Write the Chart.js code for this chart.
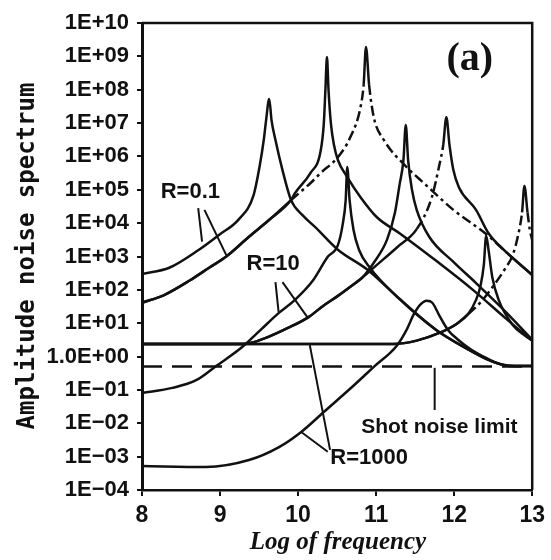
<!DOCTYPE html>
<html>
<head>
<meta charset="utf-8">
<script src="https://cdn.jsdelivr.net/npm/chart.js@4.4.0/dist/chart.umd.min.js"></script>
<style>
  html, body { margin: 0; padding: 0; background: #fff; }
  #wrap { width: 551px; height: 560px; }
</style>
</head>
<body>
<div id="wrap"><canvas id="noiseChart" width="551" height="560"></canvas></div>
<script>
// values: log of frequency, amplitude
// R = 0.1
const r01aFreq = [8.00, 8.35, 8.73, 8.99, 9.24, 9.43, 9.51, 9.56, 9.59, 9.63, 9.66, 9.71, 9.80, 9.91, 10.06, 10.22, 10.51, 10.89, 11.27, 11.77, 12.15, 12.47, 12.72, 13.00];
const r01aAmp  = [3.0e2, 4.6e2, 1.6e3, 4.5e3, 1.3e4, 6.9e4, 5.5e5, 3.1e6, 1.2e7, 5.3e7, 1.2e7, 3.1e6, 3.9e5, 4.9e4, 1.7e4, 7.6e3, 1.6e3, 4.0e2, 62, 6.3, 1.8, 0.74, 0.52, 0.52];

const r01bFreq = [8.00, 8.29, 8.61, 8.86, 9.08, 9.37, 9.62, 9.91, 9.96, 10.16, 10.29, 10.33, 10.35, 10.37, 10.39, 10.42, 10.46, 10.51, 10.63, 10.80, 11.01, 11.30, 11.77, 12.24, 12.66, 13.00];
const r01bAmp  = [41, 71, 1.9e2, 4.6e2, 1.0e3, 3.9e3, 1.2e4, 4.9e4, 7.9e4, 3.2e5, 1.5e6, 1.0e7, 9.8e7, 9.5e8, 9.8e7, 1.0e7, 2.2e6, 7.8e5, 2.4e5, 6.0e4, 1.5e4, 5.0e3, 7.4e2, 1.0e2, 14, 3.0];

const r01cFreq = [8.00, 8.29, 8.61, 8.86, 9.08, 9.37, 9.62, 9.91, 10.16, 10.29, 10.51, 10.67, 10.80, 10.84, 10.87, 10.91, 10.97, 11.10, 11.39, 11.61, 11.99, 12.41, 12.66, 13.00];
const r01cAmp  = [41, 71, 1.9e2, 4.6e2, 1.0e3, 3.9e3, 1.2e4, 4.9e4, 1.6e5, 3.2e5, 9.5e5, 3.8e6, 3.0e7, 1.4e8, 1.9e9, 1.4e8, 1.5e7, 3.1e6, 4.8e5, 1.6e5, 2.5e4, 4.7e3, 1.4e3, 2.8e2];

// R = 10
const r10aFreq = [8.00, 8.39, 8.70, 8.95, 9.28, 9.52, 9.75, 9.96, 10.19, 10.38, 10.51, 10.57, 10.61, 10.63, 10.66, 10.71, 10.78, 10.92, 11.27, 11.77, 12.15, 12.47, 12.72, 13.00];
const r10aAmp  = [0.081, 0.115, 0.20, 0.52, 1.9, 6.3, 20, 50, 1.9e2, 9.8e2, 2.2e3, 8.7e3, 4.9e4, 4.8e5, 4.9e4, 6.3e3, 1.6e3, 4.6e2, 62, 6.3, 1.8, 0.74, 0.52, 0.52];

const r10bFreq = [8.00, 9.30, 9.43, 9.62, 9.87, 10.13, 10.32, 10.51, 10.70, 10.82, 10.97, 11.14, 11.24, 11.30, 11.35, 11.38, 11.41, 11.46, 11.52, 11.68, 11.99, 12.28, 12.66, 13.00];
const r10bAmp  = [2.4, 2.4, 2.7, 3.9, 7.2, 15, 33, 66, 1.4e2, 2.3e2, 6.5e2, 3.2e3, 2.0e4, 1.4e5, 7.8e5, 8.7e6, 7.8e5, 9.8e4, 2.5e4, 3.9e3, 6.9e2, 1.6e2, 22, 3.2];

const r10cFreq = [8.00, 9.30, 9.43, 9.62, 9.87, 10.13, 10.32, 10.51, 10.70, 10.82, 11.01, 11.27, 11.52, 11.71, 11.81, 11.86, 11.90, 11.94, 11.99, 12.06, 12.28, 12.44, 12.66, 13.00];
const r10cAmp  = [2.4, 2.4, 2.7, 3.9, 7.2, 15, 33, 66, 1.4e2, 2.3e2, 5.6e2, 1.9e3, 6.6e3, 5.6e4, 5.5e5, 2.2e6, 1.5e7, 2.2e6, 3.9e5, 1.2e5, 2.5e4, 5.0e3, 1.4e3, 2.8e2];

// R = 1000
const r1000aFreq = [8.00, 8.82, 9.37, 9.75, 10.04, 10.34, 10.67, 10.97, 11.27, 11.39, 11.48, 11.56, 11.65, 11.72, 11.81, 11.92, 12.05, 12.22, 12.41, 12.59, 12.78, 13.00];
const r1000aAmp  = [5.2e-4, 4.9e-4, 7.9e-4, 1.9e-3, 5.5e-3, 2.3e-2, 0.11, 0.49, 2.2, 6.3, 18, 35, 47, 41, 17, 6.3, 3.2, 1.6, 0.91, 0.60, 0.52, 0.52];

const r1000bFreq = [8.00, 11.23, 11.52, 11.81, 12.03, 12.18, 12.28, 12.34, 12.38, 12.41, 12.44, 12.49, 12.57, 12.75, 12.91, 13.00];
const r1000bAmp  = [2.4, 2.4, 3.0, 5.1, 9.5, 19, 50, 1.4e2, 5.6e2, 4.2e3, 1.6e3, 2.3e2, 50, 8.9, 4.2, 3.0];

const r1000cFreq = [8.00, 11.23, 11.52, 11.81, 12.03, 12.18, 12.32, 12.49, 12.66, 12.75, 12.82, 12.87, 12.90, 12.94, 12.97, 13.00];
const r1000cAmp  = [2.4, 2.4, 3.0, 5.1, 9.5, 19, 38, 1.2e2, 4.6e2, 1.1e3, 4.4e3, 2.1e4, 1.3e5, 2.1e4, 6.2e3, 3.1e3];

// shot noise limit
const shotFreq = [8, 13];
const shotAmp  = [0.5, 0.5];

// axis ticks
const xTicks = [8, 9, 10, 11, 12, 13];
const yTickValues = [1e-4, 1e-3, 1e-2, 1e-1, 1e0, 1e1, 1e2, 1e3, 1e4, 1e5, 1e6, 1e7, 1e8, 1e9, 1e10];
const yTickLabels = ['1E\u221204', '1E\u221203', '1E\u221202', '1E\u221201', '1.0E+00', '1E+01', '1E+02', '1E+03', '1E+04', '1E+05', '1E+06', '1E+07', '1E+08', '1E+09', '1E+10'];

// parts of the highest-pump curves drawn dash-dot (in log frequency)
const curves = [
  { freq: r01aFreq, amp: r01aAmp, dash: [] },
  { freq: r01bFreq, amp: r01bAmp, dash: [] },
  { freq: r01cFreq, amp: r01cAmp, dash: [[9.95, 10.83], [10.93, 12.6]] },
  { freq: r10aFreq, amp: r10aAmp, dash: [] },
  { freq: r10bFreq, amp: r10bAmp, dash: [] },
  { freq: r10cFreq, amp: r10cAmp, dash: [[11.45, 11.86]] },
  { freq: r1000aFreq, amp: r1000aAmp, dash: [] },
  { freq: r1000bFreq, amp: r1000bAmp, dash: [] },
  { freq: r1000cFreq, amp: r1000cAmp, dash: [[12.2, 12.86], [12.93, 13.0]] }
];

function inDash(ranges, x0, x1) {
  const mid = (x0 + x1) / 2;
  return ranges.some(r => mid >= r[0] && mid <= r[1]);
}

const datasets = curves.map(c => ({
  data: c.freq.map((f, i) => ({ x: f, y: c.amp[i] })),
  borderColor: '#111',
  borderWidth: 2.5,
  pointRadius: 0,
  cubicInterpolationMode: 'monotone',
  segment: {
    borderDash: ctx => inDash(c.dash, ctx.p0.parsed.x, ctx.p1.parsed.x) ? [10, 4, 3, 4] : undefined
  }
}));

datasets.push({
  data: shotFreq.map((f, i) => ({ x: f, y: shotAmp[i] })),
  borderColor: '#111',
  borderWidth: 2.5,
  borderDash: [20, 10],
  pointRadius: 0
});

// annotations (positions in data units)
const pointerLines = [
  [[8.72, 2.8e4], [8.77, 2.8e3]],
  [[8.80, 2.5e4], [9.08, 1.1e3]],
  [[9.71, 1.7e2], [9.75, 22]],
  [[9.80, 1.7e2], [10.13, 14]],
  [[10.41, 1.6e-3], [10.15, 2.2]],
  [[10.38, 1.4e-3], [10.04, 5.5e-3]],
  [[11.75, 0.46], [11.75, 0.025]]
];

const notes = [
  { text: 'R=0.1', x: 8.62, y: 8.5e4, font: 'bold 22px "Liberation Sans"' },
  { text: 'R=10', x: 9.68, y: 6.0e2, font: 'bold 22px "Liberation Sans"' },
  { text: 'R=1000', x: 10.91, y: 9.1e-4, font: 'bold 22px "Liberation Sans"' },
  { text: 'Shot noise limit', x: 11.81, y: 7.8e-3, font: 'bold 21px "Liberation Sans"' },
  { text: '(a)', x: 12.20, y: 7.8e8, font: 'bold 40px "Liberation Serif"' }
];

const figureExtras = {
  id: 'figureExtras',
  afterDraw(chart) {
    const { ctx, chartArea: a, scales: { x, y } } = chart;
    ctx.save();
    ctx.strokeStyle = '#111';
    ctx.fillStyle = '#111';

    // top and right frame
    ctx.lineWidth = 2.5;
    ctx.beginPath();
    ctx.moveTo(a.left, a.top);
    ctx.lineTo(a.right, a.top);
    ctx.lineTo(a.right, a.bottom);
    ctx.stroke();

    // label pointers
    ctx.lineWidth = 2;
    pointerLines.forEach(p => {
      ctx.beginPath();
      ctx.moveTo(x.getPixelForValue(p[0][0]), y.getPixelForValue(p[0][1]));
      ctx.lineTo(x.getPixelForValue(p[1][0]), y.getPixelForValue(p[1][1]));
      ctx.stroke();
    });

    ctx.textAlign = 'center';
    ctx.textBaseline = 'middle';
    notes.forEach(n => {
      ctx.font = n.font;
      ctx.fillText(n.text, x.getPixelForValue(n.x), y.getPixelForValue(n.y));
    });

    // axis titles
    ctx.font = 'italic bold 25px "Liberation Serif"';
    ctx.fillText('Log of frequency', 338, 543);

    ctx.translate(28, 256);
    ctx.rotate(-Math.PI / 2);
    ctx.font = 'bold 24px "DejaVu Sans Mono"';
    ctx.fillText('Amplitude noise spectrum', 0, 0);
    ctx.restore();
  }
};

Chart.defaults.font.family = '"Liberation Sans", Arial, sans-serif';
Chart.defaults.color = '#111';

const noiseChart = new Chart(document.getElementById('noiseChart').getContext('2d'), {
  type: 'line',
  data: { datasets: datasets },
  options: {
    responsive: false,
    animation: false,
    devicePixelRatio: 1,
    layout: { padding: { top: 23, right: 12, left: 0, bottom: 0 } },
    plugins: {
      legend: { display: false },
      tooltip: { enabled: false }
    },
    scales: {
      x: {
        type: 'linear',
        min: 8,
        max: 13,
        afterBuildTicks: axis => { axis.ticks = xTicks.map(v => ({ value: v })); },
        afterFit: scale => { scale.height = 70; },
        ticks: {
          autoSkip: false,
          maxRotation: 0,
          padding: 6,
          font: { size: 23, weight: 'bold' },
          color: '#111'
        },
        grid: { drawOnChartArea: false, drawTicks: true, tickLength: 6, color: '#111', lineWidth: 2 },
        border: { display: true, color: '#111', width: 2.5 }
      },
      y: {
        type: 'logarithmic',
        min: 1e-4,
        max: 1e10,
        afterBuildTicks: axis => { axis.ticks = yTickValues.map(v => ({ value: v })); },
        afterFit: scale => { scale.width = 142; },
        ticks: {
          autoSkip: false,
          padding: 8,
          font: { size: 22, weight: 'bold' },
          color: '#111',
          callback: value => yTickLabels[yTickValues.indexOf(value)]
        },
        grid: { drawOnChartArea: false, drawTicks: true, tickLength: 5, color: '#111', lineWidth: 2 },
        border: { display: true, color: '#111', width: 3 }
      }
    }
  },
  plugins: [figureExtras]
});
</script>
</body>
</html>
